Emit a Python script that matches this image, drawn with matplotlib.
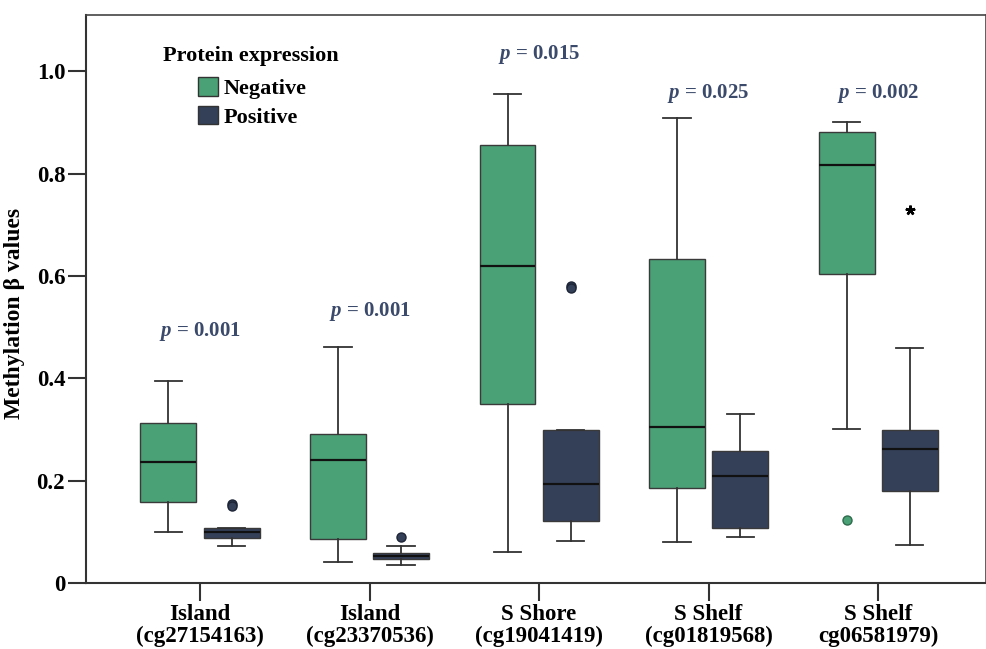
import numpy as np
import matplotlib.pyplot as plt
from matplotlib.patches import Patch

plt.rcParams["font.family"] = ["Liberation Serif", "DejaVu Serif"]
plt.rcParams["font.weight"] = "bold"
plt.rcParams["mathtext.fontset"] = "custom"
plt.rcParams["mathtext.it"] = "Liberation Serif:italic:bold"
plt.rcParams["mathtext.rm"] = "Liberation Serif:bold"

# ---- data ----
sites = ["Island\n(cg27154163)", "Island\n(cg23370536)", "S Shore\n(cg19041419)",
         "S Shelf\n(cg01819568)", "S Shelf\ncg06581979)"]
p_values = ["0.001", "0.001", "0.015", "0.025", "0.002"]
p_ypos = [0.483, 0.521, 1.023, 0.948, 0.948]

# Negative protein expression
neg_lo = [0.100, 0.042, 0.061, 0.081, 0.301]
neg_q1 = [0.159, 0.086, 0.350, 0.185, 0.604]
neg_med = [0.236, 0.240, 0.619, 0.304, 0.816]
neg_q3 = [0.313, 0.291, 0.855, 0.633, 0.881]
neg_hi = [0.395, 0.462, 0.955, 0.909, 0.900]
neg_out = [[], [], [], [], [0.123]]

# Positive protein expression
pos_lo = [0.072, 0.035, 0.083, 0.090, 0.075]
pos_q1 = [0.088, 0.046, 0.121, 0.108, 0.180]
pos_med = [0.100, 0.053, 0.193, 0.209, 0.262]
pos_q3 = [0.107, 0.059, 0.299, 0.258, 0.298]
pos_hi = [0.108, 0.072, 0.299, 0.330, 0.460]
pos_out = [[0.155, 0.150], [0.089], [0.581, 0.577], [], []]
pos_extreme = [[], [], [], [], [0.728]]

GREEN = "#4aa176"
NAVY = "#344058"
PCOL = "#3b4a6b"
LINE = "#333333"


def make_stats(lo, q1, med, q3, hi, out):
    return [dict(whislo=a, q1=b, med=c, q3=d, whishi=e, fliers=f)
            for a, b, c, d, e, f in zip(lo, q1, med, q3, hi, out)]


fig = plt.figure(figsize=(9.87, 6.49), dpi=100)
ax = fig.add_axes([0.0871, 0.1017, 0.912, 0.8753])

x = np.arange(len(sites))
off = 0.186
w = 0.33

for stats, pos, col, edge in [
    (make_stats(neg_lo, neg_q1, neg_med, neg_q3, neg_hi, neg_out), x - off, GREEN, "#2e6b4c"),
    (make_stats(pos_lo, pos_q1, pos_med, pos_q3, pos_hi, pos_out), x + off, NAVY, "#1c2436"),
]:
    ax.bxp(
        stats,
        positions=pos,
        widths=w,
        capwidths=0.16,
        patch_artist=True,
        manage_ticks=False,
        boxprops=dict(facecolor=col, edgecolor="#3a3a3a", linewidth=1.0),
        medianprops=dict(color="#111111", linewidth=1.6),
        whiskerprops=dict(color=LINE, linewidth=1.3),
        capprops=dict(color=LINE, linewidth=1.3),
        flierprops=dict(marker="o", markerfacecolor=col, markeredgecolor=edge,
                        markersize=6.5, linestyle="none"),
    )

# extreme values (asterisk)
for i, vals in enumerate(pos_extreme):
    for v in vals:
        ax.plot(x[i] + off, v, marker=(5, 2, 0), color="black", markersize=7,
                markeredgewidth=1.8, linestyle="none")

# p-values
for i, (p, yp) in enumerate(zip(p_values, p_ypos)):
    ax.text(x[i], yp, r"$\it{p}$ = " + p, ha="center", va="baseline",
            color=PCOL, fontsize=15, fontweight="bold")

ax.set_xlim(-0.6726, 4.637)
ax.set_ylim(0, 1.11)
ax.set_xticks(x)
ax.set_xticklabels(sites, fontsize=16.5, linespacing=1.05)
ax.set_yticks([0, 0.2, 0.4, 0.6, 0.8, 1.0])
ax.set_yticklabels(["0", "0.2", "0.4", "0.6", "0.8", "1.0"], fontsize=16.5)
ax.tick_params(direction="out", length=13, width=1.5, color=LINE, pad=2)

ax.set_ylabel("Methylation β values", fontsize=17, fontweight="bold")
ax.yaxis.set_label_coords(-0.068, 0.474)

for side in ["left", "bottom"]:
    ax.spines[side].set_linewidth(1.5)
    ax.spines[side].set_color(LINE)
for side in ["top", "right"]:
    ax.spines[side].set_linewidth(1.2)
    ax.spines[side].set_color("#444444")

# legend
ax.text(0.0856, 0.919, "Protein expression", transform=ax.transAxes,
        fontsize=16, fontweight="bold", va="baseline", ha="left")
handles = [Patch(facecolor=GREEN, edgecolor=LINE, label="Negative"),
           Patch(facecolor=NAVY, edgecolor=LINE, label="Positive")]
ax.legend(handles=handles, loc="upper left", bbox_to_anchor=(0.1244, 0.89),
          frameon=False, handlelength=0.9, handleheight=0.9, handletextpad=0.25,
          labelspacing=0.3, borderaxespad=0, borderpad=0,
          prop=dict(size=16, weight="bold"))

fig.savefig("out.png", dpi=100, facecolor="white")
